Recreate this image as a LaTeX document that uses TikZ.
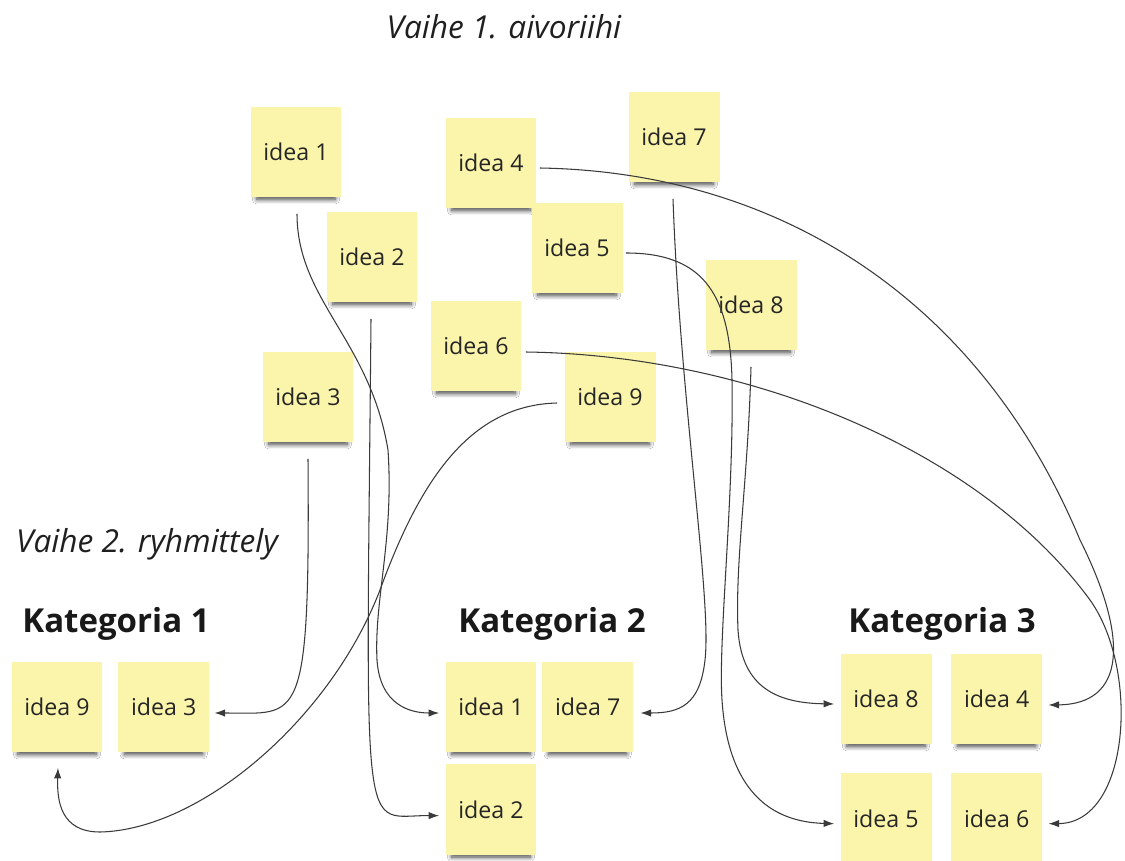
\documentclass[tikz,border=0pt]{standalone}
\usepackage{fontspec}
\setmainfont{Open Sans}
\usepackage{xcolor}
\usetikzlibrary{positioning,arrows.meta,shadows.blur}

\definecolor{notefill}{HTML}{FBF5AB}
\definecolor{linegray}{HTML}{3A3A3A}

\begin{document}
\begin{tikzpicture}[x=0.02cm, y=-0.02cm,
		note/.style={fill=notefill, minimum size=1.82cm, inner sep=0pt,
			font=\fontsize{13.2}{16}\selectfont, text=black!85,
			blur shadow={shadow xshift=0pt, shadow yshift=-5.5pt, shadow scale=0.86,
				shadow opacity=75, shadow blur radius=3pt, shadow blur steps=8}},
		link/.style={draw=linegray, line width=0.6pt, -{Latex[length=6pt,width=4.2pt]}},
		phase/.style={font=\itshape\fontsize{18}{22}\selectfont, text=black!88},
		category/.style={font=\bfseries\fontsize{18.8}{22}\selectfont, text=black!90}]
		\fill[white] (0,0) rectangle (1125,861);
		\useasboundingbox (0,0) rectangle (1125,861);
		
		% Labels
		\node[phase, anchor=base] (phase1) at (504,39) {Vaihe 1. aivoriihi};
		\node[phase, anchor=base west] (phase2) at (10,552) {Vaihe 2. ryhmittely};
		\node[category, anchor=base] (cat1) at (116,632) {Kategoria 1};
		\node[category, anchor=base] (cat2) at (552,632) {Kategoria 2};
		\node[category, anchor=base] (cat3) at (942,632) {Kategoria 3};
		
		% Nodes: brainstorm
		\node[note] (i1) at (296,152) {idea 1};
		\node[note] (i2) at (372,257) {idea 2};
		\node[note] (i3) at (308,397) {idea 3};
		\node[note] (i4) at (491,163) {idea 4};
		\node[note] (i5) at (577,248) {idea 5};
		\node[note] (i6) at (476,346) {idea 6};
		\node[note] (i7) at (674,137) {idea 7};
		\node[note] (i8) at (751,305) {idea 8};
		\node[note] (i9) at (610,397) {idea 9};
		
		% Nodes: categories
		\node[note] (k1i9) at (57,707) {idea 9};
		\node[note, right=0.3cm of k1i9] (k1i3) {idea 3};
		\node[note] (k2i1) at (491,707) {idea 1};
		\node[note, right=0.1cm of k2i1] (k2i7) {idea 7};
		\node[note, below=0.22cm of k2i1] (k2i2) {idea 2};
		\node[note] (k3i8) at (886,699) {idea 8};
		\node[note, right=0.38cm of k3i8] (k3i4) {idea 4};
		\node[note, below=0.56cm of k3i8] (k3i5) {idea 5};
		\node[note, below=0.56cm of k3i4] (k3i6) {idea 6};
		
		% Arrows
		\draw[link] ([shift={(1,16)}]i1.south) .. controls (297,300) and (370,340) .. (388,450)
			.. controls (394,540) and (374,600) .. (377,660)
			.. controls (380,705) and (410,713) .. ([shift={(-6,6)}]k2i1.west);
		\draw[link] ([shift={(-1,16)}]i2.south) .. controls (366,860) and (360,815) .. ([shift={(-6,6)}]k2i2.west);
		\draw[link] ([shift={(0,16)}]i3.south) .. controls (310,730) and (300,713) .. ([shift={(5,6)}]k1i3.east);
		\draw[link] ([shift={(3,5)}]i4.east) .. controls (780,172) and (980,300) .. (1080,540)
			.. controls (1130,640) and (1125,704) .. ([shift={(6,6)}]k3i4.east);
		\draw[link] ([shift={(3,5)}]i5.east) .. controls (700,253) and (730,290) .. (732,380)
			.. controls (734,500) and (718,640) .. (722,700)
			.. controls (728,790) and (770,822) .. ([shift={(-6,5)}]k3i5.west);
		\draw[link] ([shift={(4,6)}]i6.east) .. controls (750,355) and (980,450) .. (1090,600)
			.. controls (1140,670) and (1130,823) .. ([shift={(6,5)}]k3i6.east);
		\draw[link] ([shift={(-1,16)}]i7.south) .. controls (680,400) and (712,600) .. (705,660)
			.. controls (700,705) and (680,713) .. ([shift={(7,6)}]k2i7.east);
		\draw[link] ([shift={(0,16)}]i8.south) .. controls (748,480) and (735,560) .. (738,630)
			.. controls (742,690) and (780,703) .. ([shift={(-6,5)}]k3i8.west);
		\draw[link] ([shift={(-7,6)}]i9.west) .. controls (470,405) and (420,480) .. (380,590)
			.. controls (330,720) and (200,830) .. (100,832)
			.. controls (60,832) and (57,800) .. ([shift={(1,15)}]k1i9.south);
		
	\end{tikzpicture}
\end{document}
